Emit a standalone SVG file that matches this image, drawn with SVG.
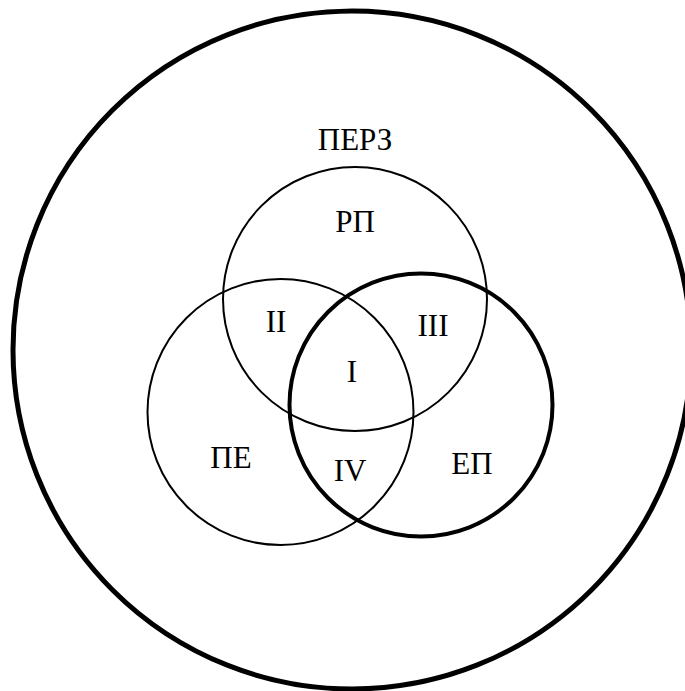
<svg xmlns="http://www.w3.org/2000/svg" width="685" height="691" viewBox="0 0 685 691">
<style>
.c{fill:none;stroke:#000}
.t{font-family:"Liberation Serif","Times New Roman",serif;font-size:31px;fill:#000;text-anchor:middle}
</style>
<rect width="685" height="691" fill="#fff"/>
<g id="perz">
<circle class="c" cx="352" cy="350" r="339" stroke-width="5"/>
<text class="t" x="355" y="150">ПЕРЗ</text>
</g>
<g id="rp">
<circle class="c" cx="355" cy="299" r="132" stroke-width="2"/>
<text class="t" x="355" y="232">РП</text>
</g>
<g id="pe">
<circle class="c" cx="280.5" cy="412" r="133" stroke-width="2"/>
<text class="t" x="231" y="468">ПЕ</text>
</g>
<g id="ep">
<circle class="c" cx="421" cy="405" r="131.5" stroke-width="4"/>
<text class="t" x="472" y="474">ЕП</text>
</g>
<g id="regions">
<text class="t" x="352" y="382">I</text>
<text class="t" x="276" y="332">II</text>
<text class="t" x="433" y="336">III</text>
<text class="t" x="350" y="481">IV</text>
</g>
</svg>
